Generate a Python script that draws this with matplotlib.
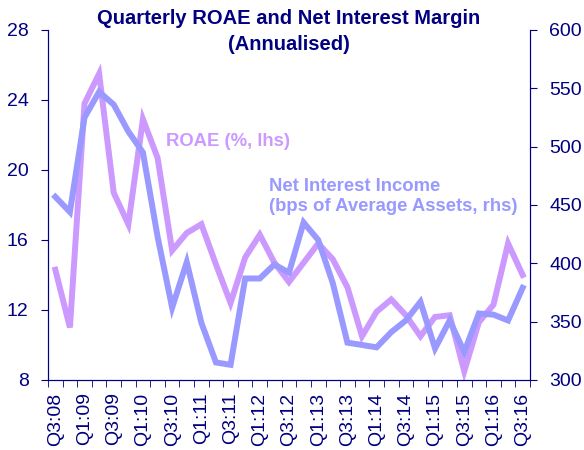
import matplotlib
matplotlib.use("Agg")
import matplotlib.pyplot as plt
import numpy as np

plt.rcParams["font.family"] = ["Liberation Sans", "DejaVu Sans"]
NAVY = "#000080"; ROAE_C = "#cc99ff"; NII_C = "#9999ff"

quarters = [f"Q{q}:{y:02d}" for y in range(8, 17) for q in (1, 2, 3, 4)][2:35]
roae = [14.3, 11.0, 23.8, 25.5, 18.7, 16.9, 22.9, 20.7, 15.4, 16.4, 16.9,
        14.6, 12.4, 15.0, 16.3, 14.7, 13.6, 14.7, 15.8, 14.9, 13.3, 10.5,
        11.9, 12.6, 11.7, 10.5, 11.6, 11.7, 8.5, 11.3, 12.3, 15.8, 14.0]
nii = [457, 444, 525, 547, 536, 513, 495, 423, 362, 401, 349,
       315, 313, 387, 387, 399, 392, 435, 420, 383, 332, 330,
       328, 341, 351, 367, 327, 351, 324, 357, 356, 351, 379]

x = np.arange(len(quarters))
fig = plt.figure(figsize=(5.84, 4.5), dpi=100)
ax = fig.add_axes([0.0822, 0.1556, 0.8253, 0.7778])
ax2 = ax.twinx()

ax.plot(x, roae, color=ROAE_C, linewidth=4.3, solid_joinstyle="miter", zorder=2)
ax2.plot(x, nii, color=NII_C, linewidth=4.3, solid_joinstyle="miter", zorder=3)

ax.set_xlim(-0.5, len(x) - 0.5)
ax.set_ylim(8, 28)
ax.set_yticks(np.arange(8, 29, 4))
ax2.set_ylim(300, 600)
ax2.set_yticks(np.arange(300, 601, 50))

ax.set_xticks(x[::2])
ax.set_xticklabels(quarters[::2], rotation=90)
ax.set_xticks(np.arange(-0.5, len(x), 1), minor=True)
ax.tick_params(axis="x", which="major", length=0, pad=9, labelsize=14, colors=NAVY)
ax.tick_params(axis="x", which="minor", length=5, direction="out", color=NAVY)
ax.tick_params(axis="y", length=5, direction="out", labelsize=14, colors=NAVY, pad=9)
ax2.tick_params(axis="y", length=5, direction="out", labelsize=14, colors=NAVY, pad=9)

for a in (ax, ax2):
    a.spines["top"].set_visible(False)
    for s in ("left", "right", "bottom"):
        a.spines[s].set_color(NAVY)
ax.patch.set_visible(False)

fig.text(0.495, 0.930, "Quarterly ROAE and Net Interest Margin\n(Annualised)",
         ha="center", va="center", fontsize=14.5, fontweight="bold", color=NAVY,
         linespacing=1.4)
ax.text(7.6, 21.65, "ROAE (%, lhs)", fontsize=13.3, fontweight="bold", color=ROAE_C,
        va="center", ha="left")
ax.text(14.6, 18.5, "Net Interest Income\n(bps of Average Assets, rhs)", fontsize=13.3,
        fontweight="bold", color=NII_C, va="center", ha="left", linespacing=1.25)

fig.savefig("out.png", dpi=100)
